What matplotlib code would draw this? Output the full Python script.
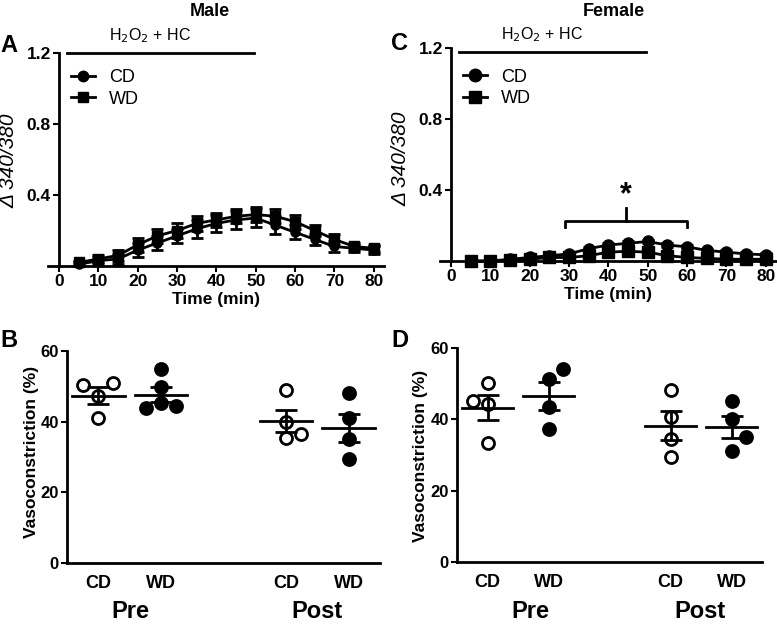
import numpy as np
import matplotlib.pyplot as plt
from matplotlib.lines import Line2D

plt.rcParams['font.family'] = ['Liberation Sans', 'DejaVu Sans']

# time course data (Δ 340/380)
time = [5, 10, 15, 20, 25, 30, 35, 40, 45, 50, 55, 60, 65, 70, 75, 80]

male_cd = [0.01, 0.03, 0.04, 0.09, 0.13, 0.17, 0.21, 0.24, 0.26, 0.27, 0.23, 0.19, 0.15, 0.11, 0.10, 0.09]
male_cd_err = [0.01, 0.02, 0.03, 0.04, 0.04, 0.04, 0.05, 0.05, 0.05, 0.05, 0.05, 0.04, 0.03, 0.03, 0.02, 0.02]
male_wd = [0.02, 0.04, 0.06, 0.12, 0.17, 0.20, 0.24, 0.26, 0.28, 0.29, 0.28, 0.25, 0.20, 0.15, 0.11, 0.10]
male_wd_err = [0.01, 0.02, 0.03, 0.04, 0.04, 0.04, 0.04, 0.04, 0.04, 0.04, 0.04, 0.04, 0.03, 0.03, 0.02, 0.02]

female_cd = [0.0, 0.0, 0.01, 0.02, 0.03, 0.04, 0.07, 0.09, 0.10, 0.11, 0.09, 0.08, 0.06, 0.05, 0.04, 0.035]
female_cd_err = [0.005, 0.005, 0.005, 0.005, 0.01, 0.01, 0.01, 0.01, 0.01, 0.01, 0.01, 0.01, 0.01, 0.01, 0.01, 0.01]
female_wd = [0.0, 0.0, 0.005, 0.01, 0.02, 0.02, 0.03, 0.05, 0.055, 0.05, 0.03, 0.02, 0.015, 0.01, 0.01, 0.01]
female_wd_err = [0.005, 0.005, 0.005, 0.005, 0.01, 0.01, 0.01, 0.01, 0.01, 0.01, 0.01, 0.01, 0.01, 0.01, 0.01, 0.01]

# vasoconstriction (%) per group: Pre CD, Pre WD, Post CD, Post WD
groups = ['CD', 'WD', 'CD', 'WD']
male_vaso = [
    [50.4, 47.3, 50.9, 40.9],
    [44.0, 45.2, 49.9, 54.8, 44.4],
    [49.0, 40.0, 36.4, 35.3],
    [48.0, 40.9, 35.0, 29.3],
]
female_vaso = [
    [45.2, 44.3, 50.2, 33.5],
    [51.4, 43.5, 37.2, 54.0],
    [48.2, 40.7, 34.4, 29.4],
    [45.2, 40.0, 35.1, 31.1],
]
male_offsets = [[-0.24, 0, 0.24, 0], [-0.24, 0, 0, 0, 0.24], [0, 0, 0.24, 0], [0, 0, 0, 0]]
female_offsets = [[-0.24, 0, 0, 0], [0, 0, 0, 0.24], [0, 0, 0, 0], [0, 0, 0.24, 0]]

W, H = 777, 624
fig = plt.figure(figsize=(W / 100, H / 100), dpi=100)


def ftext(x, y, s, **kw):
    # place text using pixel coords from top-left
    fig.text(x / W, 1 - y / H, s, **kw)


def time_panel(ax, cd, cd_err, wd, wd_err, ms, bar_y, leg_y):
    ax.errorbar(time, cd, yerr=cd_err, color='black', marker='o', ms=ms, lw=2,
                elinewidth=2, capsize=4, capthick=2, clip_on=False, zorder=3)
    ax.errorbar(time, wd, yerr=wd_err, color='black', marker='s', ms=ms, lw=2,
                elinewidth=2, capsize=4, capthick=2, clip_on=False, zorder=3)
    ax.set_xlim(-2.8, 82.5)
    ax.set_ylim(0, 1.2)
    ax.spines['left'].set_position(('data', 0))
    ax.spines['right'].set_visible(False)
    ax.spines['top'].set_visible(False)
    for s in ['left', 'bottom']:
        ax.spines[s].set_linewidth(2)
    ax.set_xticks(range(0, 81, 10))
    ax.set_yticks([0.4, 0.8, 1.2])
    ax.tick_params(width=1.5, length=4, labelsize=12.5, pad=2)
    for lab in ax.get_xticklabels() + ax.get_yticklabels():
        lab.set_fontweight('bold')
    ax.set_xlabel('Time (min)', fontsize=12.5, fontweight='bold', labelpad=2)
    ax.plot([2, 49.5], [bar_y, bar_y], color='black', lw=2, clip_on=False)
    ax.text(23, bar_y + 0.045, 'H$_2$O$_2$ + HC', ha='center', va='bottom', fontsize=11.5)
    handles = [Line2D([], [], color='black', lw=2, marker='o', ms=ms + 1),
               Line2D([], [], color='black', lw=2, marker='s', ms=ms + 1)]
    ax.legend(handles, ['CD', 'WD'], loc='upper left', bbox_to_anchor=(0.02, leg_y),
              frameon=False, fontsize=13, handlelength=1.3, labelspacing=0.25,
              handletextpad=0.8)


def vaso_panel(ax, vals, offsets):
    for i, (v, off) in enumerate(zip(vals, offsets)):
        xc = i + (1 if i > 1 else 0)
        pos = [xc + o for o in off]
        filled = i % 2 == 1
        ax.scatter(pos, v, s=75, facecolor='black' if filled else 'white',
                   edgecolor='black', linewidth=2, zorder=3, clip_on=False)
        m = np.mean(v)
        sem = np.std(v, ddof=1) / np.sqrt(len(v))
        ax.plot([xc - 0.42, xc + 0.42], [m, m], color='black', lw=2, zorder=4)
        ax.errorbar([xc], [m], yerr=[sem], color='black', elinewidth=2, capsize=8,
                    capthick=2, fmt='none', zorder=4)
    ax.set_xlim(-0.5, 4.5)
    ax.set_ylim(0, 60)
    ax.spines['right'].set_visible(False)
    ax.spines['top'].set_visible(False)
    for s in ['left', 'bottom']:
        ax.spines[s].set_linewidth(2)
    ax.set_yticks([0, 20, 40, 60])
    ax.set_xticks([0, 1, 3, 4])
    ax.set_xticklabels(groups, fontsize=13, fontweight='bold')
    ax.tick_params(axis='x', length=0, pad=9)
    ax.tick_params(axis='y', width=1.5, length=4, labelsize=12, pad=2)
    for lab in ax.get_yticklabels():
        lab.set_fontweight('bold')


ax_a = fig.add_axes([0.0620, 0.5737, 0.4316, 0.3413])
time_panel(ax_a, male_cd, male_cd_err, male_wd, male_wd_err, 6.5, 1.2, 1.0)

ax_c = fig.add_axes([0.5665, 0.5817, 0.4316, 0.3413])
time_panel(ax_c, female_cd, female_cd_err, female_wd, female_wd_err, 8, 1.18, 0.98)
# significance bracket
ax_c.plot([29, 29, 60, 60], [0.19, 0.225, 0.225, 0.19], color='black', lw=2)
ax_c.plot([44.5, 44.5], [0.225, 0.30], color='black', lw=2)
ax_c.text(44.5, 0.285, '*', ha='center', va='bottom', fontsize=22, fontweight='bold')

ax_b = fig.add_axes([0.0862, 0.0978, 0.4028, 0.3397])
vaso_panel(ax_b, male_vaso, male_offsets)

ax_d = fig.add_axes([0.5882, 0.0994, 0.3925, 0.3429])
vaso_panel(ax_d, female_vaso, female_offsets)

# titles, panel letters and axis labels
ftext(210, 12, 'Male', ha='center', va='center', fontsize=13, fontweight='bold')
ftext(614, 12, 'Female', ha='center', va='center', fontsize=13, fontweight='bold')
for x, y, s in [(0, 45, 'A'), (391, 44, 'C'), (0, 341, 'B'), (391, 341, 'D')]:
    ftext(x, y, s, ha='left', va='center', fontsize=17, fontweight='bold')

ftext(9, 161, 'Δ 340/380', rotation=90, ha='center', va='center', fontsize=15,
      fontstyle='italic')
ftext(401, 159, 'Δ 340/380', rotation=90, ha='center', va='center', fontsize=15,
      fontstyle='italic')
ftext(32, 452, 'Vasoconstriction (%)', rotation=90, ha='center', va='center',
      fontsize=12.5, fontweight='bold')
ftext(421, 456, 'Vasoconstriction (%)', rotation=90, ha='center', va='center',
      fontsize=12.5, fontweight='bold')
for x, s in [(130, 'Pre'), (317, 'Post'), (530, 'Pre'), (700, 'Post')]:
    ftext(x, 612, s, ha='center', va='center', fontsize=17, fontweight='bold')

fig.savefig('out.png', dpi=100)
